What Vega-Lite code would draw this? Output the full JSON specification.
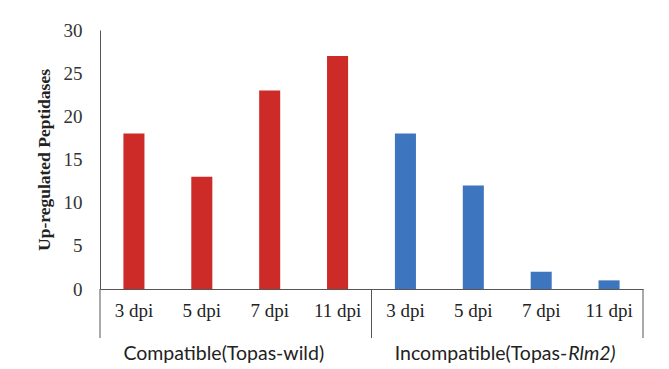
{
  "$schema": "https://vega.github.io/schema/vega-lite/v6.json",
  "autosize": {"type": "none"},
  "padding": {"left": 100, "top": 30, "right": 26, "bottom": 80},
  "width": 543,
  "height": 259,
  "background": "white",
  "config": {"view": {"stroke": null}},
  "datasets": {
    "bars": [
      {"cat": "C|3 dpi", "group": "Compatible", "value": 18},
      {"cat": "C|5 dpi", "group": "Compatible", "value": 13},
      {"cat": "C|7 dpi", "group": "Compatible", "value": 23},
      {"cat": "C|11 dpi", "group": "Compatible", "value": 27},
      {"cat": "I|3 dpi", "group": "Incompatible", "value": 18},
      {"cat": "I|5 dpi", "group": "Incompatible", "value": 12},
      {"cat": "I|7 dpi", "group": "Incompatible", "value": 2},
      {"cat": "I|11 dpi", "group": "Incompatible", "value": 1}
    ],
    "seps": [{"cat": "C|3 dpi"}, {"cat": "I|3 dpi"}],
    "sepEnd": [{"cat": "I|11 dpi"}],
    "groupC": [{"cat": "C|7 dpi", "label": "Compatible(Topas-wild)"}],
    "groupI": [{"cat": "I|7 dpi", "label": "Incompatible(Topas-"}],
    "groupI2": [{"cat": "I|7 dpi", "label": "Rlm2)"}]
  },
  "layer": [
    {
      "data": {"name": "bars"},
      "mark": {"type": "bar", "width": {"band": 0.31}},
      "encoding": {
        "x": {
          "field": "cat", "type": "nominal",
          "scale": {"domain": ["C|3 dpi", "C|5 dpi", "C|7 dpi", "C|11 dpi", "I|3 dpi", "I|5 dpi", "I|7 dpi", "I|11 dpi"], "paddingInner": 0, "paddingOuter": 0},
          "axis": {
            "title": null, "ticks": false, "labelAngle": 0,
            "labelExpr": "split(datum.label, '|')[1]",
            "labelFont": "Liberation Serif", "labelFontSize": 19, "labelColor": "#222",
            "labelPadding": 12, "domainColor": "#555", "domainWidth": 1
          }
        },
        "y": {
          "field": "value", "type": "quantitative",
          "scale": {"domain": [0, 30], "nice": false},
          "axis": {
            "values": [0, 5, 10, 15, 20, 25, 30], "ticks": false, "grid": false,
            "labelFont": "Liberation Serif", "labelFontSize": 19, "labelColor": "#333",
            "labelPadding": 18, "domainColor": "#555", "domainWidth": 1,
            "title": "Up-regulated Peptidases", "titleFont": "Liberation Serif",
            "titleFontSize": 17.5, "titleFontWeight": "bold", "titleColor": "#222", "titlePadding": 10
          }
        },
        "color": {
          "field": "group", "type": "nominal",
          "scale": {"domain": ["Compatible", "Incompatible"], "range": ["#cc2b27", "#3d75be"]},
          "legend": null
        }
      }
    },
    {
      "data": {"name": "seps"},
      "mark": {"type": "rule", "color": "#555", "strokeWidth": 1},
      "encoding": {
        "x": {"field": "cat", "type": "nominal", "bandPosition": 0},
        "y": {"datum": 0},
        "y2": {"datum": -5.68}
      }
    },
    {
      "data": {"name": "sepEnd"},
      "mark": {"type": "rule", "color": "#555", "strokeWidth": 1},
      "encoding": {
        "x": {"field": "cat", "type": "nominal", "bandPosition": 1},
        "y": {"datum": 0},
        "y2": {"datum": -5.68}
      }
    },
    {
      "data": {"name": "groupC"},
      "mark": {"type": "text", "font": "Lato", "fontSize": 19.5, "color": "#222", "align": "center", "baseline": "middle", "dx": -12},
      "encoding": {
        "x": {"field": "cat", "type": "nominal", "bandPosition": 0},
        "y": {"datum": -7.5},
        "text": {"field": "label"}
      }
    },
    {
      "data": {"name": "groupI"},
      "mark": {"type": "text", "font": "Lato", "fontSize": 19.5, "color": "#222", "align": "right", "baseline": "middle", "dx": 60},
      "encoding": {
        "x": {"field": "cat", "type": "nominal", "bandPosition": 0},
        "y": {"datum": -7.5},
        "text": {"field": "label"}
      }
    },
    {
      "data": {"name": "groupI2"},
      "mark": {"type": "text", "font": "Lato", "fontSize": 19.5, "fontStyle": "italic", "color": "#222", "align": "left", "baseline": "middle", "dx": 61},
      "encoding": {
        "x": {"field": "cat", "type": "nominal", "bandPosition": 0},
        "y": {"datum": -7.5},
        "text": {"field": "label"}
      }
    }
  ]
}
